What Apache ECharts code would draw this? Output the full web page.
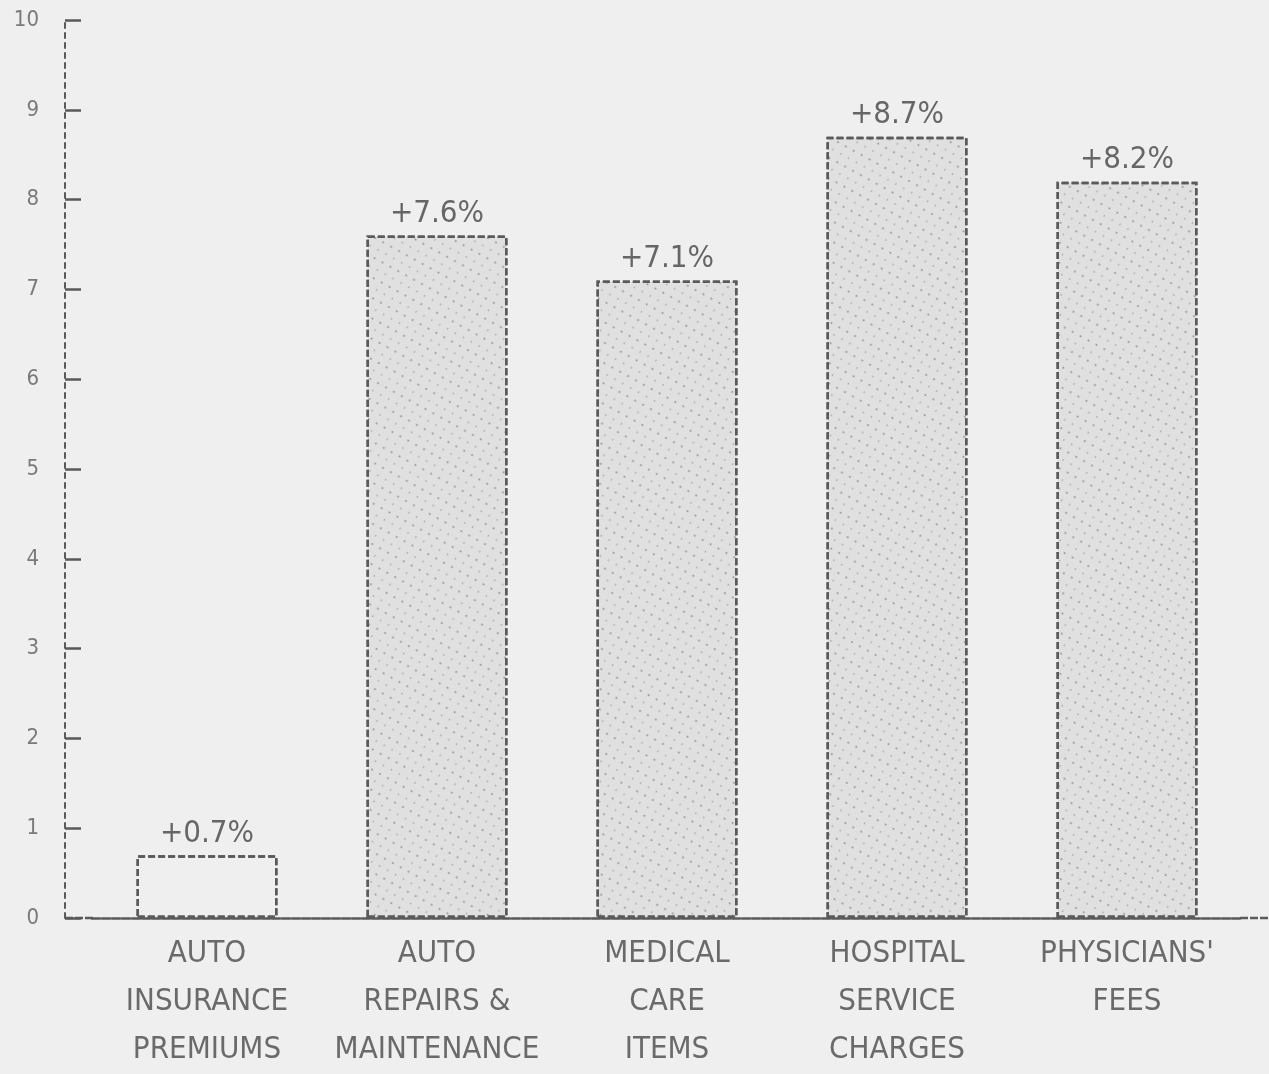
<!DOCTYPE html>
<html>
<head>
<meta charset="utf-8">
<script src="https://cdn.jsdelivr.net/npm/echarts@6/dist/echarts.min.js"></script>
<style>
html,body{margin:0;padding:0;background:#efefef;}
#chart{width:1269px;height:1074px;}
</style>
</head>
<body>
<div id="chart"></div>
<script>
const categories = [
  "AUTO\nINSURANCE\nPREMIUMS",
  "AUTO\nREPAIRS &\nMAINTENANCE",
  "MEDICAL\nCARE\nITEMS",
  "HOSPITAL\nSERVICE\nCHARGES",
  "PHYSICIANS'\nFEES"
];
const increases = [0.7, 7.6, 7.1, 8.7, 8.2];
const yTicks = [0, 1, 2, 3, 4, 5, 6, 7, 8, 9, 10];

const ink = '#5a5a5a';
const font = '"DejaVu Sans Condensed", "DejaVu Sans", sans-serif';
const chart = echarts.init(document.getElementById('chart'));
const stipple = {
  symbol: 'circle',
  symbolSize: 0.5,
  color: 'rgba(85,85,85,0.55)',
  dashArrayX: [[5, 4], [3, 6]],
  dashArrayY: [4, 5],
  rotation: 0.5
};
chart.setOption({
  backgroundColor: '#efefef',
  animation: false,
  grid: { left: 92, right: 27, top: 20, bottom: 150 },
  xAxis: {
    type: 'category',
    data: categories,
    axisLine: { lineStyle: { color: ink, width: 2.5, type: [8, 2] } },
    axisTick: { show: false },
    axisLabel: {
      color: '#6a6a6a', fontFamily: font, fontSize: 31, lineHeight: 48,
      margin: 12, interval: 0
    }
  },
  yAxis: {
    type: 'value', min: 0, max: 10, interval: 1,
    offset: 27,
    splitLine: { show: false },
    axisLine: { show: true, lineStyle: { color: ink, width: 2, type: [5, 5] } },
    axisTick: { show: true, inside: true, length: 16, lineStyle: { color: ink, width: 2.5 } },
    axisLabel: {
      color: '#7a7a7a', fontFamily: font, fontSize: 22, margin: 26,
      formatter: v => yTicks.includes(v) ? String(v) : ''
    }
  },
  series: [{
    type: 'bar',
    data: increases.map((v, i) => ({
      value: v,
      itemStyle: i === 0 ? { color: '#efefef', decal: { symbol: 'none' } } : {}
    })),
    barWidth: 141,
    itemStyle: {
      color: '#e0e0e0',
      borderColor: ink,
      borderWidth: 2.5,
      borderType: [7, 3],
      decal: stipple
    },
    label: {
      show: true, position: 'top', distance: 6,
      color: '#666666', fontFamily: font, fontSize: 31,
      formatter: p => '+' + p.value + '%'
    }
  }]
});
// extend baseline to the y axis line on the left and the page edge on the right
const y0 = chart.convertToPixel({ yAxisIndex: 0 }, 0);
chart.setOption({
  graphic: [
    { type: 'line', shape: { x1: 65, y1: y0, x2: 94, y2: y0 },
      style: { stroke: ink, lineWidth: 2.5, lineDash: [8, 2] } },
    { type: 'line', shape: { x1: 1240, y1: y0, x2: 1269, y2: y0 },
      style: { stroke: ink, lineWidth: 2.5, lineDash: [8, 2] } }
  ]
});
</script>
</body>
</html>
